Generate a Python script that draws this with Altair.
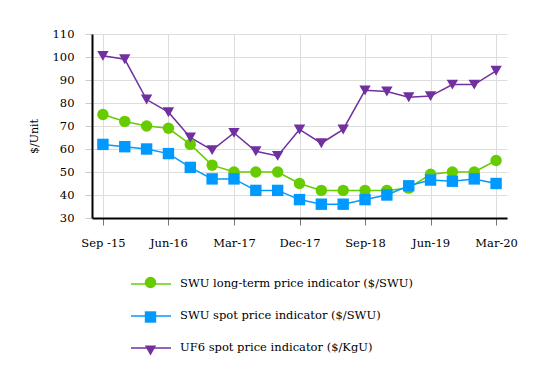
import altair as alt
import pandas as pd

quarters = ["Sep -15", "Dec-15", "Mar-16", "Jun-16", "Sep-16", "Dec-16", "Mar-17", "Jun-17",
            "Sep-17", "Dec-17", "Mar-18", "Jun-18", "Sep-18", "Dec-18", "Mar-19", "Jun-19",
            "Sep-19", "Dec-19", "Mar-20"]
tick_labels = ["Sep -15", "Jun-16", "Mar-17", "Dec-17", "Sep-18", "Jun-19", "Mar-20"]

swu_long = [75, 72, 70, 69, 62, 53, 50, 50, 50, 45, 42, 42, 42, 42, 43, 49, 50, 50, 55]
swu_spot = [62, 61, 60, 58, 52, 47, 47, 42, 42, 38, 36, 36, 38, 40, 44, 46.5, 46, 47, 45]
uf6_spot = [100.5, 99, 81.5, 76, 65, 59.5, 67, 59, 57, 68.5, 62.5, 68.5, 85.5, 85, 82.5, 83, 88, 88, 94]

series_names = ["SWU long-term price indicator ($/SWU)",
                "SWU spot price indicator ($/SWU)",
                "UF6 spot price indicator ($/KgU)"]
colors = ["#66CC00", "#0099FF", "#7030A0"]
shapes = ["circle", "square", "triangle-down"]

rows = []
for name, vals in zip(series_names, [swu_long, swu_spot, uf6_spot]):
    for q, v in zip(quarters, vals):
        rows.append({"quarter": q, "value": v, "series": name, "series_l": name})
df = pd.DataFrame(rows)

FONT = "DejaVu Serif"

x_enc = alt.X("quarter:N", sort=quarters, title=None,
              scale=alt.Scale(type="point", padding=0.5),
              axis=alt.Axis(values=tick_labels, labelAngle=0, labelFontSize=11.5, labelFont=FONT,
                            labelColor="#000", domainColor="#000", domainWidth=2,
                            tickColor="#777", tickSize=7, labelPadding=12,
                            grid=True, gridColor="#dddddd"))
y_enc = alt.Y("value:Q", title="$/Unit",
              scale=alt.Scale(domain=[30, 110], nice=False, zero=False),
              axis=alt.Axis(values=list(range(30, 111, 10)), labelFontSize=11.5, labelFont=FONT,
                            labelColor="#000", titleFont=FONT, titleFontSize=11,
                            titleFontWeight="normal", titleColor="#000", titlePadding=13,
                            titleY=102,
                            domainColor="#000", domainWidth=2, tickColor="#cccccc",
                            tickSize=7, labelPadding=11, grid=True, gridColor="#dddddd"))

lines = alt.Chart(df).mark_line(strokeWidth=1.5).encode(
    x=x_enc, y=y_enc,
    stroke=alt.Stroke("series_l:N", scale=alt.Scale(range=colors),
                      legend=alt.Legend(title=None, orient="none", legendX=48, legendY=239,
                                        symbolType="M-2,0L2,0", symbolSize=400,
                                        symbolStrokeWidth=1.5, symbolFillColor="transparent",
                                        labelFont=FONT, labelFontSize=11.5, labelColor="#000",
                                        labelOffset=18, rowPadding=15, padding=0,
                                        labelLimit=400)),
    detail="series:N",
)

shape_legend = alt.Legend(title=None, orient="none", legendX=52, legendY=242,
                          symbolSize=130, symbolOpacity=1,
                          labelFont=FONT, labelFontSize=13, labelExpr="''",
                          rowPadding=15.5, padding=0)

points = alt.Chart(df).mark_point(filled=True, size=130, opacity=1).encode(
    x=x_enc, y=y_enc,
    color=alt.Color("series:N", scale=alt.Scale(range=colors), legend=shape_legend),
    shape=alt.Shape("series:N", scale=alt.Scale(range=shapes), legend=shape_legend),
)

chart = alt.layer(lines, points).properties(
    width=415, height=184,
    autosize=alt.AutoSizeParams(type="none"),
    padding={"left": 84, "top": 26, "right": 25, "bottom": 160},
    background="white",
).configure_view(stroke=None)

chart.save("out.html", embed_options={"renderer": "svg", "actions": False})
